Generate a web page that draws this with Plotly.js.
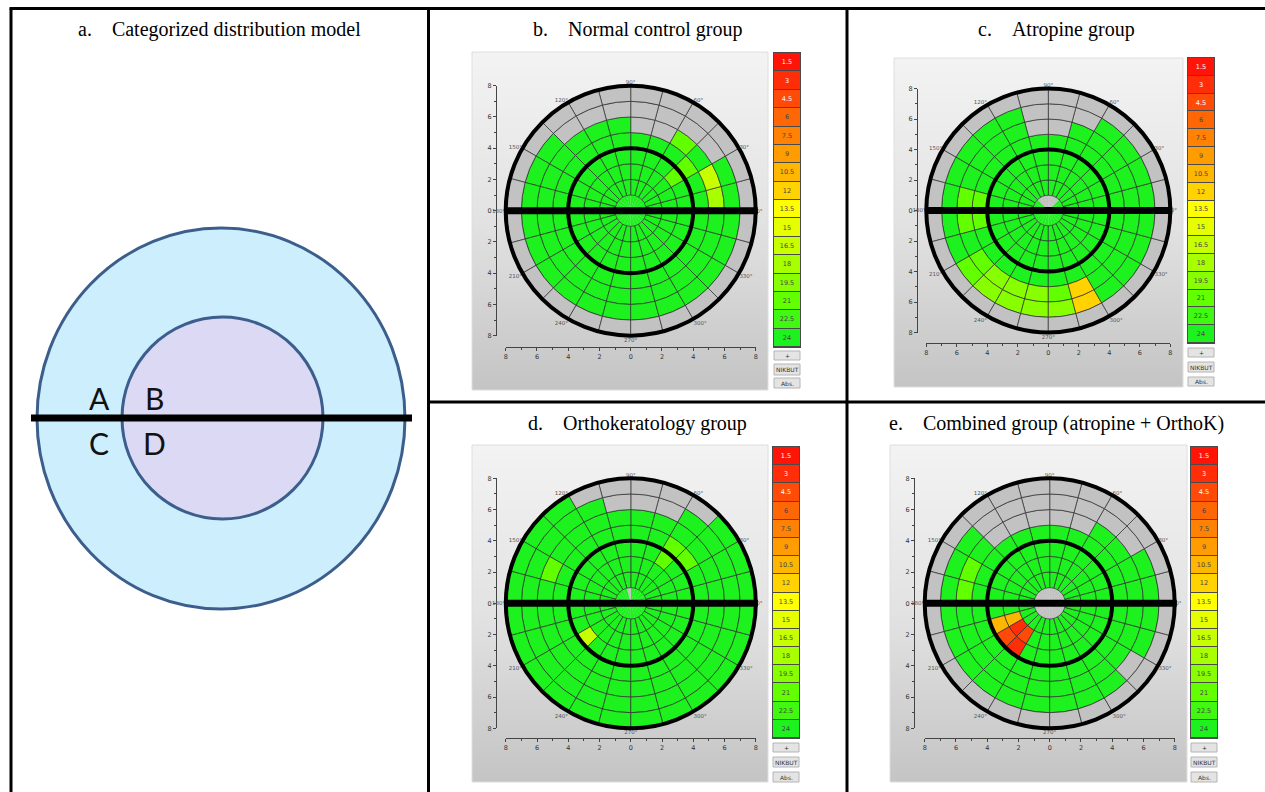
<!DOCTYPE html>
<html>
<head>
<meta charset="utf-8">
<script src="https://cdn.plot.ly/plotly-3.0.1.min.js"></script>
<style>
  html, body { margin: 0; padding: 0; background: #ffffff; }
  #fig { width: 1265px; height: 792px; }
</style>
</head>
<body>
<div id="fig"></div>
<script>
// ---------------------------------------------------------------
// NIKBUT polar maps (tear film break-up time, seconds)
// Grid: centre disc + rings 1..8 mm, sectors of 15 degrees,
// sector k spans [15k, 15k+15] degrees, counter-clockwise from 0°.
// G = no break-up during the recording (24 s), N = not measured.
// ---------------------------------------------------------------
const G = 24, N = null;

const levels = [1.5, 3, 4.5, 6, 7.5, 9, 10.5, 12, 13.5, 15, 16.5, 18, 19.5, 21, 22.5, 24];
const levelColors = ['#ff1408', '#ff2e08', '#ff4a08', '#ff6606', '#ff8204', '#ff9c02', '#ffb600',
                     '#ffd200', '#ffff00', '#e6ff00', '#c8ff00', '#a8ff00', '#88ff00', '#62ff00',
                     '#40f810', '#1ef21e'];
const missingColor = '#c2c2c2';
const legendButtons = ['+', 'NIKBUT', 'Abs.'];
const axisTickLabels = ['8', '6', '4', '2', '0', '2', '4', '6', '8'];
const angleLabels = ['0°', '30°', '60°', '90°', '120°', '150°', '180°', '210°', '240°', '270°', '300°', '330°'];

// b. Normal control group
const normalRing0 = [G,G,G,G,G,G, G,G,G,G,G,G, G,G,G,G,G,G, G,G,G,G,G,G];
const normalRing1 = [G,G,G,G,G,G, G,G,G,G,G,G, G,G,G,G,G,G, G,G,G,G,G,G];
const normalRing2 = [G,G,G,G,G,G, G,G,G,G,G,G, G,G,G,G,G,G, G,G,G,G,G,G];
const normalRing3 = [G,G,21,G,G,G, G,G,G,G,G,G, G,G,G,G,G,G, G,G,G,G,G,G];
const normalRing4 = [G,G,21,G,G,G, G,G,G,G,G,G, G,G,G,G,G,G, G,G,G,G,G,G];
const normalRing5 = [18,16.5,G,21,N,N, G,G,G,G,G,G, G,G,G,G,G,G, G,G,G,G,G,G];
const normalRing6 = [G,G,N,N,N,N, N,N,N,G,G,G, G,G,G,G,G,G, G,G,G,G,G,G];
const normalRing7 = [N,N,N,N,N,N, N,N,N,N,N,N, N,N,N,N,N,N, N,N,N,N,N,N];

// c. Atropine group
const atropineRing0 = [G,G,G,N,N,N, N,N,N,G,G,G, G,G,G,G,G,G, G,G,G,G,G,G];
const atropineRing1 = [G,G,G,G,G,G, G,G,G,G,G,G, G,G,G,G,G,G, G,G,G,G,G,G];
const atropineRing2 = [G,G,G,G,G,G, G,G,G,G,G,G, G,G,G,G,G,G, G,G,G,G,G,G];
const atropineRing3 = [G,G,G,G,G,G, G,G,G,G,G,G, G,G,G,G,G,G, G,G,G,G,G,G];
const atropineRing4 = [G,G,G,G,G,G, G,G,G,G,G,21, 21,G,G,G,G,G, G,G,G,G,G,G];
const atropineRing5 = [G,G,G,G,G,N, N,G,G,G,G,21, 21,G,21,19.5,19.5,19.5, 21,12,G,G,G,G];
const atropineRing6 = [G,G,G,G,N,N, N,G,G,G,G,G, G,G,21,19.5,19.5,19.5, 19.5,12,G,G,G,G];
const atropineRing7 = [N,N,N,N,N,N, N,N,N,N,N,N, N,N,N,N,N,N, N,N,N,N,N,N];

// d. Orthokeratology group
const orthokRing0 = [G,G,G,G,G,G, N,G,G,G,G,G, G,G,G,G,G,G, G,G,G,G,G,G];
const orthokRing1 = [G,G,G,G,G,G, G,G,G,G,G,G, G,G,G,G,G,G, G,G,G,G,G,G];
const orthokRing2 = [G,G,G,G,G,G, G,G,G,G,G,G, G,G,G,G,G,G, G,G,G,G,G,G];
const orthokRing3 = [G,G,G,21,G,G, G,G,G,G,G,G, G,G,16.5,G,G,G, G,G,G,G,G,G];
const orthokRing4 = [G,G,21,21,G,G, G,G,G,G,G,G, G,G,G,G,G,G, G,G,G,G,G,G];
const orthokRing5 = [G,G,G,G,G,G, G,G,G,G,21,G, G,G,G,G,G,G, G,G,G,G,G,G];
const orthokRing6 = [G,G,G,G,N,N, N,G,G,G,G,G, G,G,G,G,G,G, G,G,G,G,G,G];
const orthokRing7 = [G,G,G,N,N,N, N,N,G,G,G,G, G,G,G,G,G,G, G,G,G,G,G,G];

// e. Combined group (atropine + OrthoK)
const combinedRing0 = [N,N,N,N,N,N, N,N,N,N,N,N, N,N,N,N,N,N, N,N,N,N,N,N];
const combinedRing1 = [G,G,G,G,G,G, G,G,G,G,G,G, G,G,G,G,G,G, G,G,G,G,G,G];
const combinedRing2 = [G,G,G,G,G,G, G,G,G,G,G,G, G,10.5,3,4.5,G,G, G,G,G,G,G,G];
const combinedRing3 = [G,G,G,G,G,G, G,G,G,G,G,G, G,10.5,4.5,3,G,G, G,G,G,G,G,G];
const combinedRing4 = [G,G,G,G,G,G, G,G,G,G,G,G, G,G,G,G,G,G, G,G,G,G,G,G];
const combinedRing5 = [G,G,G,G,N,N, N,N,N,G,21,21, G,G,G,G,G,G, G,G,G,G,G,G];
const combinedRing6 = [G,G,N,N,N,N, N,N,N,G,G,G, G,G,G,G,G,G, G,G,G,N,G,G];
const combinedRing7 = [N,N,N,N,N,N, N,N,N,N,N,N, N,N,N,N,N,N, N,N,N,N,N,N];

// ---------------------------------------------------------------
const W = 1265, H = 792;
const fx = px => px / W;
const fy = py => 1 - py / H;

const SECTOR = 15;
const sectorCenters = Array.from({ length: 360 / SECTOR }, (_, k) => k * SECTOR + SECTOR / 2);
const RMAX = 8;

function cellColor(v) {
  if (v === null) return missingColor;
  let best = 0;
  levels.forEach((lv, i) => { if (Math.abs(lv - v) < Math.abs(levels[best] - v)) best = i; });
  return levelColors[best];
}

// discrete colour scale for the key
const stepScale = [];
levelColors.forEach((c, i) => {
  stepScale.push([i / levelColors.length, c]);
  stepScale.push([(i + 1) / levelColors.length, c]);
});
const keyStep = levels[1] - levels[0];

// panel placement on the page (pixels)
const panels = [
  { title: 'b.\u00a0\u00a0\u00a0\u00a0Normal control group', col: 1, row: 0,
    rings: [normalRing0, normalRing1, normalRing2, normalRing3, normalRing4, normalRing5, normalRing6, normalRing7],
    box: [472, 52, 768, 390], cx: 630.7, cy: 210.7, R: 125, axisX: 496, axisY: 347,
    key: [774, 53, 800, 347], btn: [[351, 360], [364, 375], [378, 388]] },
  { title: 'c.\u00a0\u00a0\u00a0\u00a0Atropine group', col: 2, row: 0,
    rings: [atropineRing0, atropineRing1, atropineRing2, atropineRing3, atropineRing4, atropineRing5, atropineRing6, atropineRing7],
    box: [894, 58, 1183, 387], cx: 1048.3, cy: 210.5, R: 122, axisX: 917, axisY: 343,
    key: [1188, 58, 1214, 343], btn: [[348, 357], [362, 372], [377, 386]] },
  { title: 'd.\u00a0\u00a0\u00a0\u00a0Orthokeratology group', col: 1, row: 1,
    rings: [orthokRing0, orthokRing1, orthokRing2, orthokRing3, orthokRing4, orthokRing5, orthokRing6, orthokRing7],
    box: [472, 445, 768, 782], cx: 630.8, cy: 603.3, R: 125, axisX: 496, axisY: 738,
    key: [773, 447, 799, 738], btn: [[743, 752], [757, 767], [772, 782]] },
  { title: 'e.\u00a0\u00a0\u00a0\u00a0Combined group (atropine + OrthoK)', col: 2, row: 1,
    rings: [combinedRing0, combinedRing1, combinedRing2, combinedRing3, combinedRing4, combinedRing5, combinedRing6, combinedRing7],
    box: [890, 445, 1187, 782], cx: 1049.7, cy: 603.3, R: 125, axisX: 914, axisY: 738,
    key: [1191, 447, 1217, 738], btn: [[743, 752], [757, 767], [772, 782]] }
];

// table grid (pixels)
const colEdges = [11, 428.5, 847, 1265];
const rowEdges = [8.5, 402, 792];
const titleOffset = 21;

const traces = [];
const shapes = [];
const annotations = [];
const layout = {
  width: W, height: H,
  margin: { l: 0, r: 0, t: 0, b: 0 },
  paper_bgcolor: '#ffffff',
  plot_bgcolor: 'rgba(0,0,0,0)',
  showlegend: false,
  font: { family: 'Open Sans, Liberation Sans, sans-serif', color: '#333' }
};

const axName = (c, id) => (id === 1 ? c + 'axis' : c + 'axis' + id);
const axRef = (c, id) => (id === 1 ? c : c + id);

panels.forEach((p, i) => {
  const idBg = 3 * i + 1, idTk = 3 * i + 2, idKey = 3 * i + 3;
  const [bx0, by0, bx1, by1] = p.box;

  // shaded screen background
  layout[axName('x', idBg)] = { domain: [fx(bx0), fx(bx1)], range: [0, 1], visible: false, fixedrange: true };
  layout[axName('y', idBg)] = { domain: [fy(by1), fy(by0)], range: [0, 1], visible: false, fixedrange: true };
  traces.push({
    type: 'heatmap', x: [0, 1], y: [0, 0.5, 1],
    z: [[196, 196], [226, 226], [243, 243]],
    zmin: 196, zmax: 243, zsmooth: 'best',
    colorscale: [[0, 'rgb(196,196,196)'], [1, 'rgb(243,243,243)']],
    showscale: false, hoverinfo: 'skip',
    xaxis: axRef('x', idBg), yaxis: axRef('y', idBg)
  });
  shapes.push({ type: 'rect', xref: 'paper', yref: 'paper', x0: fx(bx0), x1: fx(bx1), y0: fy(by1), y1: fy(by0),
                line: { color: '#dedede', width: 1 }, fillcolor: 'rgba(0,0,0,0)', layer: 'above' });

  // millimetre scales left and below the map
  const ticks = axisTickLabels.map((_, j) => -RMAX + 2 * j);
  const minorTicks = ticks.slice(0, -1).map(t => t + 1);
  const tickStyle = {
    range: [-RMAX, RMAX], anchor: 'free', tickmode: 'array', tickvals: ticks, ticktext: axisTickLabels,
    ticks: 'outside', ticklen: 3, tickwidth: 1, tickcolor: '#444',
    minor: { tickmode: 'array', tickvals: minorTicks, ticks: 'outside', ticklen: 2, tickcolor: '#444' },
    showline: true, linecolor: '#444', linewidth: 1, showgrid: false, zeroline: false,
    tickfont: { size: 6.5, color: '#333', family: 'DejaVu Sans' }, fixedrange: true
  };
  layout[axName('x', idTk)] = Object.assign({}, tickStyle, {
    domain: [fx(p.cx - p.R), fx(p.cx + p.R)], position: fy(p.axisY), side: 'bottom'
  });
  layout[axName('y', idTk)] = Object.assign({}, tickStyle, {
    domain: [fy(p.cy + p.R), fy(p.cy - p.R)], position: fx(p.axisX), side: 'left'
  });
  traces.push({ type: 'scatter', x: [], y: [], hoverinfo: 'skip', xaxis: axRef('x', idTk), yaxis: axRef('y', idTk) });

  // colour key
  const [kx0, ky0, kx1, ky1] = p.key;
  layout[axName('x', idKey)] = { domain: [fx(kx0), fx(kx1)], range: [-0.5, 0.5], visible: false, fixedrange: true };
  layout[axName('y', idKey)] = { domain: [fy(ky1), fy(ky0)], range: [levels.length - 0.5, -0.5], visible: false, fixedrange: true };
  shapes.push({ type: 'rect', xref: 'paper', yref: 'paper', layer: 'below',
                x0: fx(kx0 - 1), x1: fx(kx1 + 1), y0: fy(ky1 + 1), y1: fy(ky0 - 1),
                fillcolor: '#4a4a4a', line: { width: 0 } });
  traces.push({
    type: 'heatmap', x: [0], y: levels.map((_, j) => j), z: levels.map(v => [v]),
    zmin: levels[0] - keyStep / 2, zmax: levels[levels.length - 1] + keyStep / 2,
    colorscale: stepScale, showscale: false, ygap: 1, xgap: 0,
    texttemplate: '%{z}', textfont: { size: 6.5, family: 'DejaVu Sans' },
    hoverinfo: 'skip', xaxis: axRef('x', idKey), yaxis: axRef('y', idKey)
  });

  // buttons under the key
  p.btn.forEach(([t0, t1], j) => {
    shapes.push({ type: 'rect', xref: 'paper', yref: 'paper', x0: fx(kx0), x1: fx(kx1), y0: fy(t1), y1: fy(t0),
                  fillcolor: '#e4e4e4', line: { color: '#b4b4b4', width: 1 }, layer: 'above' });
    annotations.push({ xref: 'paper', yref: 'paper', x: fx((kx0 + kx1) / 2), y: fy((t0 + t1) / 2),
                       text: legendButtons[j], showarrow: false, xanchor: 'center', yanchor: 'middle',
                       font: { size: 6, color: '#333', family: 'DejaVu Sans' } });
  });

  // polar map
  const polarId = i === 0 ? 'polar' : 'polar' + (i + 1);
  layout[polarId] = {
    domain: { x: [fx(p.cx - p.R), fx(p.cx + p.R)], y: [fy(p.cy + p.R), fy(p.cy - p.R)] },
    bgcolor: 'rgba(0,0,0,0)', barmode: 'overlay', bargap: 0,
    radialaxis: { range: [0, RMAX], visible: false },
    angularaxis: {
      rotation: 0, direction: 'counterclockwise', showgrid: false, showline: false, ticks: '',
      tickmode: 'array', tickvals: angleLabels.map(s => parseFloat(s)), ticktext: angleLabels,
      color: '#555555',
      tickfont: { size: 5.5, color: '#555555', family: 'DejaVu Sans' }
    }
  };

  // centre disc (no sector borders)
  traces.push({
    type: 'barpolar', subplot: polarId,
    theta: sectorCenters, r: sectorCenters.map(() => 1), base: sectorCenters.map(() => 0),
    width: sectorCenters.map(() => SECTOR),
    marker: { color: p.rings[0].map(cellColor), line: { width: 0 } },
    hoverinfo: 'skip'
  });
  // rings 1..7
  const theta = [], r = [], base = [], colors = [];
  for (let ring = 1; ring < p.rings.length; ring++) {
    p.rings[ring].forEach((v, k) => {
      theta.push(sectorCenters[k]); r.push(1); base.push(ring); colors.push(cellColor(v));
    });
  }
  traces.push({
    type: 'barpolar', subplot: polarId, theta, r, base, width: theta.map(() => SECTOR),
    marker: { color: colors, line: { color: '#2e2e2e', width: 0.7 } },
    hoverinfo: 'skip'
  });

  // boundaries of the categorised zones: 4 mm and 8 mm circles, horizontal meridian
  [4, 8].forEach(rad => {
    const rp = p.R * rad / RMAX;
    shapes.push({ type: 'circle', xref: 'paper', yref: 'paper', layer: 'above',
                  x0: fx(p.cx - rp), x1: fx(p.cx + rp), y0: fy(p.cy + rp), y1: fy(p.cy - rp),
                  line: { color: '#000000', width: 4 }, fillcolor: 'rgba(0,0,0,0)' });
  });
  shapes.push({ type: 'line', xref: 'paper', yref: 'paper', layer: 'above',
                x0: fx(p.cx - p.R), x1: fx(p.cx + p.R + 2), y0: fy(p.cy), y1: fy(p.cy),
                line: { color: '#000000', width: 7 } });

  // panel title
  annotations.push({ xref: 'paper', yref: 'paper',
                     x: fx((colEdges[p.col] + colEdges[p.col + 1]) / 2), y: fy(rowEdges[p.row] + titleOffset),
                     text: p.title, showarrow: false, xanchor: 'center', yanchor: 'middle',
                     font: { family: 'Liberation Serif, Times New Roman, serif', size: 20, color: '#000' } });
});

// ---------------------------------------------------------------
// a. Categorised distribution model: zones A-D
// ---------------------------------------------------------------
const modelOuter = [37, 228, 405, 609];
const modelInner = [122, 317, 323, 519];
const modelLineY = 418;
shapes.push({ type: 'circle', xref: 'paper', yref: 'paper', layer: 'above',
              x0: fx(modelOuter[0]), x1: fx(modelOuter[2]), y0: fy(modelOuter[3]), y1: fy(modelOuter[1]),
              fillcolor: '#cdeefc', line: { color: '#3c5e8c', width: 3 } });
shapes.push({ type: 'circle', xref: 'paper', yref: 'paper', layer: 'above',
              x0: fx(modelInner[0]), x1: fx(modelInner[2]), y0: fy(modelInner[3]), y1: fy(modelInner[1]),
              fillcolor: '#dbd9f4', line: { color: '#3c5e8c', width: 3 } });
shapes.push({ type: 'line', xref: 'paper', yref: 'paper', layer: 'above',
              x0: fx(31), x1: fx(412), y0: fy(modelLineY), y1: fy(modelLineY),
              line: { color: '#000000', width: 7 } });
const zoneLabels = [['A', 99, 398], ['B', 154, 398], ['C', 99, 443], ['D', 154, 443]];
zoneLabels.forEach(([t, x, y]) => {
  annotations.push({ xref: 'paper', yref: 'paper', x: fx(x), y: fy(y), text: t, showarrow: false,
                     xanchor: 'center', yanchor: 'middle',
                     font: { family: 'Lato, Open Sans, sans-serif', size: 30, color: '#111' } });
});
annotations.push({ xref: 'paper', yref: 'paper', x: fx((colEdges[0] + colEdges[1]) / 2), y: fy(rowEdges[0] + titleOffset),
                   text: 'a.\u00a0\u00a0\u00a0\u00a0Categorized distribution model', showarrow: false,
                   xanchor: 'center', yanchor: 'middle',
                   font: { family: 'Liberation Serif, Times New Roman, serif', size: 20, color: '#000' } });

// table rules
const rule = (x0, y0, x1, y1) => shapes.push({ type: 'line', xref: 'paper', yref: 'paper', layer: 'above',
  x0: fx(x0), x1: fx(x1), y0: fy(y0), y1: fy(y1), line: { color: '#000', width: 3 } });
rule(colEdges[0] - 1.5, rowEdges[0], colEdges[3], rowEdges[0]);
rule(colEdges[0], rowEdges[0], colEdges[0], rowEdges[2]);
rule(colEdges[1], rowEdges[0], colEdges[1], rowEdges[2]);
rule(colEdges[2], rowEdges[0], colEdges[2], rowEdges[2]);
rule(colEdges[1], rowEdges[1], colEdges[3], rowEdges[1]);

layout.shapes = shapes;
layout.annotations = annotations;

Plotly.newPlot('fig', traces, layout, { staticPlot: true, displayModeBar: false });
</script>
</body>
</html>
